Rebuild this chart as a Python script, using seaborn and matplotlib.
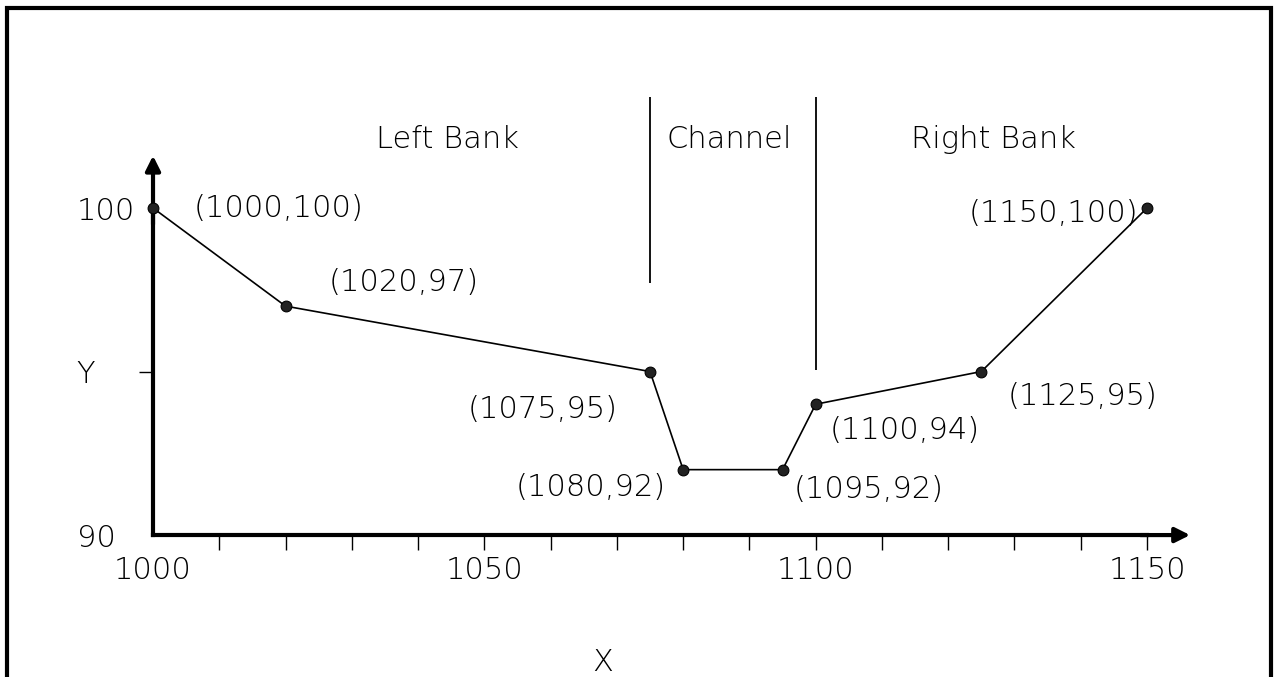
import matplotlib
matplotlib.use('Agg')
import matplotlib.pyplot as plt
import matplotlib.patches as mpatches
import seaborn as sns
import pandas as pd

# Cross-section survey points (station, elevation)
station = [1000, 1020, 1075, 1080, 1095, 1100, 1125, 1150]
elevation = [100, 97, 95, 92, 92, 94, 95, 100]
point_labels = ['(1000,100)', '(1020,97)', '(1075,95)', '(1080,92)',
                '(1095,92)', '(1100,94)', '(1125,95)', '(1150,100)']

# Bank stations dividing left bank / channel / right bank
bank_x = [1075, 1100]
bank_top = [103.4, 103.4]
bank_bottom = [97.7, 95.05]
zone_names = ['Left Bank', 'Channel', 'Right Bank']
zone_x = [1044.5, 1086.9, 1126.8]

x_major = [1000, 1050, 1100, 1150]
x_minor = list(range(1000, 1151, 10))
y_ticks = [90, 95, 100]
y_ticklabels = ['90', 'Y', '100']

df = pd.DataFrame({'Station': station, 'Elevation': elevation})

sns.set_style('white')
plt.rcParams['font.family'] = ['DejaVu Sans']
plt.rcParams['text.color'] = 'black'
plt.rcParams['xtick.color'] = 'black'
plt.rcParams['ytick.color'] = 'black'
plt.rcParams['axes.labelcolor'] = 'black'

FS = 22

fig = plt.figure(figsize=(12.74, 6.77), dpi=100)
ax = fig.add_axes([0, 0, 1, 1])

# profile line + points
sns.lineplot(data=df, x='Station', y='Elevation', sort=False, color='black',
             linewidth=1.2, ax=ax)
sns.scatterplot(data=df, x='Station', y='Elevation', color='#222222', s=60,
                edgecolor='black', linewidth=0.8, zorder=5, ax=ax)

ax.set_xlim(976.91, 1169.16)
ax.set_ylim(85.66, 106.36)

# label offsets in pixels from each point
offsets = [(126, 0), (118, 24), (-107, -38), (-92, -18),
           (86, -20), (89, -26), (101, -25), (-94, -5)]
for xv, yv, lab, off in zip(station, elevation, point_labels, offsets):
    ax.annotate(lab, xy=(xv, yv), xytext=off, textcoords='offset pixels',
                ha='center', va='center', fontsize=FS, fontweight='light',
                color='black')

ax.vlines(bank_x, bank_bottom, bank_top, color='black', linewidth=1.3)
for zx, name in zip(zone_x, zone_names):
    ax.text(zx, 102.1, name, ha='center', va='center', fontsize=FS,
            fontweight='light', color='black')

# axes drawn as arrows through (1000, 90)
for side in ['top', 'right']:
    ax.spines[side].set_visible(False)
ax.spines['bottom'].set_position(('data', 90))
ax.spines['left'].set_position(('data', 1000))
ax.spines['bottom'].set_bounds(1000, 1150)
ax.spines['left'].set_bounds(90, 100)
for side in ['bottom', 'left']:
    ax.spines[side].set_linewidth(3)
    ax.spines[side].set_color('black')
ax.annotate('', xy=(1156.5, 90), xytext=(1149, 90),
            arrowprops=dict(arrowstyle='-|>', color='black', lw=3,
                            mutation_scale=22, shrinkA=0, shrinkB=0))
ax.annotate('', xy=(1000, 101.6), xytext=(1000, 99.5),
            arrowprops=dict(arrowstyle='-|>', color='black', lw=3,
                            mutation_scale=22, shrinkA=0, shrinkB=0))

ax.set_xticks(x_major)
ax.set_xticklabels([str(v) for v in x_major])
ax.set_xticks(x_minor, minor=True)
ax.tick_params(axis='x', which='both', bottom=True, direction='out',
               length=11, width=1, color='black', pad=4, labelsize=FS,
               labelcolor='black')
ax.xaxis.get_major_ticks()[0].tick1line.set_visible(False)
for lab in ax.get_xticklabels():
    lab.set_fontweight('light')

ax.set_yticks(y_ticks)
ax.set_yticklabels(y_ticklabels)
ax.tick_params(axis='y', left=True, direction='out', length=10, width=1,
               color='black', pad=45, labelsize=FS, labelcolor='black')
ax.yaxis.get_major_ticks()[0].tick1line.set_visible(False)
ax.yaxis.get_major_ticks()[2].tick1line.set_visible(False)
for lab in ax.get_yticklabels():
    lab.set_ha('left')
    lab.set_fontweight('light')

ax.set_xlabel('X', fontsize=FS, fontweight='light', color='black')
ax.xaxis.set_label_coords(603 / 1274, 1 - 648 / 677)
ax.set_ylabel('')

# page frame (no bottom edge visible)
fig.patches.append(mpatches.Rectangle((7 / 1274, -0.05), 1264 / 1274, 1.05 - 8 / 677,
                                      transform=fig.transFigure, fill=False,
                                      edgecolor='black', linewidth=3))

fig.savefig('out.png', dpi=100)
